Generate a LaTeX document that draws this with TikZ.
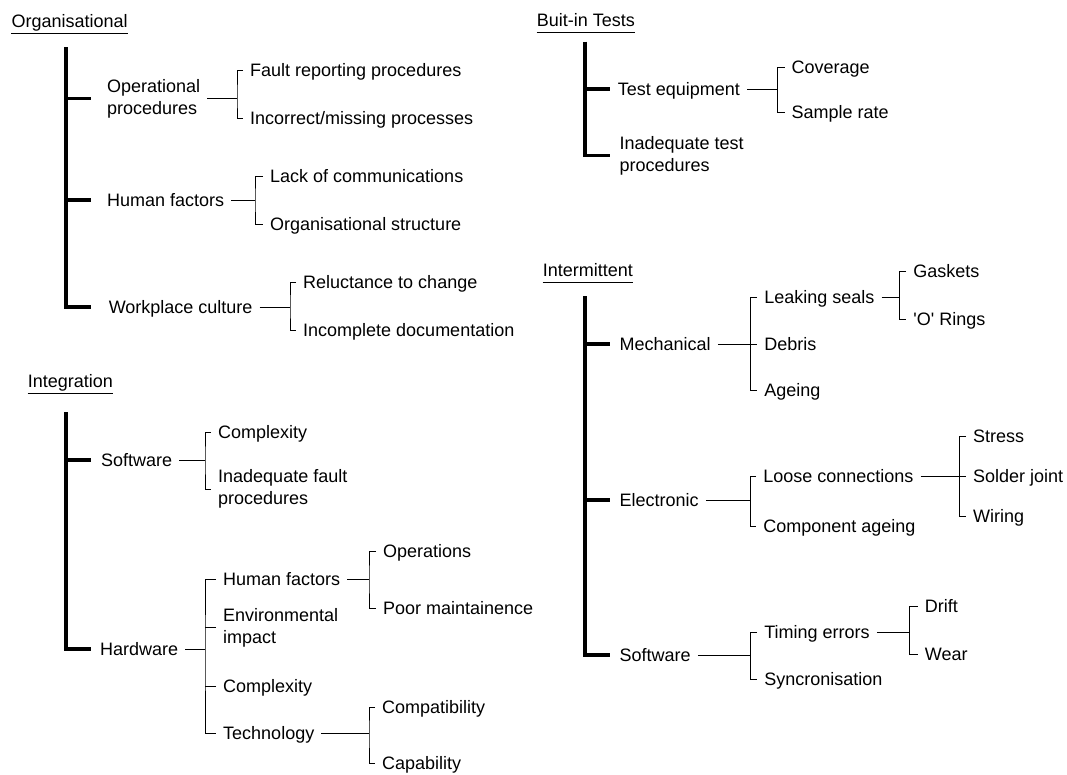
\documentclass[tikz,border=0pt]{standalone}
\usepackage{fontspec}
\setmainfont{Liberation Sans}
\usetikzlibrary{calc}

\begin{document}
\begin{tikzpicture}[x=1pt, y=-1pt,
    every node/.style={font=\fontsize{18}{22}\selectfont},
    item/.style={anchor=west, inner xsep=7pt, inner ysep=1pt, text height=14.5pt, text depth=2.5pt},
    item2/.style={anchor=west, inner xsep=7pt, inner ysep=1pt, align=left},
    head/.style={anchor=base west, inner sep=0pt},
    trunk/.style={line width=3.8pt},
    twig/.style={line width=1pt}]
\useasboundingbox (0,0) rectangle (1067,774);

% Organisational
\node[head] (orghead) at (11.4,27.5) {Organisational};
\draw[twig] ([yshift=-6pt]orghead.base west) -- ([yshift=-6pt]orghead.base east);
\coordinate (orgTop) at (66,47);
\node[item2] (op) at (100,98.5) {Operational\\procedures};
\node[item] (hf) at (100,200) {Human factors};
\node[item] (cult) at (101.6,307) {Workplace culture};
\draw[trunk] (orgTop) -- (orgTop |- cult.west) -- ++(25,0);
\draw[trunk] (orgTop |- op.west) -- ++(25,0);
\draw[trunk] (orgTop |- hf.west) -- ++(25,0);

\coordinate (opB) at (237,98.5);
\node[item] (fault) at (243,70.5) {Fault reporting procedures};
\node[item] (miss) at (243,118) {Incorrect/missing processes};
\draw[twig] (op.east) -- (opB);
\draw[twig] (fault.west) -| (opB) |- (miss.west);

\coordinate (hfB) at (255,200);
\node[item] (lack) at (263,176.5) {Lack of communications};
\node[item] (struct) at (263,224) {Organisational structure};
\draw[twig] (hf.east) -- (hfB);
\draw[twig] (lack.west) -| (hfB) |- (struct.west);

\coordinate (cultB) at (290,307);
\node[item] (reluct) at (296,282.5) {Reluctance to change};
\node[item] (incdoc) at (296,330) {Incomplete documentation};
\draw[twig] (cult.east) -- (cultB);
\draw[twig] (reluct.west) -| (cultB) |- (incdoc.west);

% Integration
\node[head] (inthead) at (27.6,387.5) {Integration};
\draw[twig] ([yshift=-6pt]inthead.base west) -- ([yshift=-6pt]inthead.base east);
\coordinate (intTop) at (66,412);
\node[item] (sw) at (94,460) {Software};
\node[item] (hw) at (93,649.3) {Hardware};
\draw[trunk] (intTop) -- (intTop |- hw.west) -- ++(25,0);
\draw[trunk] (intTop |- sw.west) -- ++(25,0);

\coordinate (swB) at (205,460);
\node[item] (cx1) at (211,432.7) {Complexity};
\node[item2] (iff) at (211,489) {Inadequate fault\\procedures};
\draw[twig] (sw.east) -- (swB);
\draw[twig] (cx1.west) -| (swB) |- (iff.west);

\coordinate (hwB) at (205,649.3);
\node[item] (hwhf) at (216,579) {Human factors};
\node[item2] (env) at (216,627.5) {Environmental\\impact};
\node[item] (cx2) at (216,686.7) {Complexity};
\node[item] (tech) at (216,733) {Technology};
\draw[twig] (hw.east) -- (hwB);
\draw[twig] (hwhf.west) -| (hwB) |- (tech.west);
\draw[twig] (env.west) -- (env.west -| hwB);
\draw[twig] (cx2.west) -- (cx2.west -| hwB);

\coordinate (hwhfB) at (369,579);
\node[item] (ops) at (376,551) {Operations};
\node[item] (poor) at (376,608) {Poor maintainence};
\draw[twig] (hwhf.east) -- (hwhfB);
\draw[twig] (ops.west) -| (hwhfB) |- (poor.west);

\coordinate (techB) at (369,733);
\node[item] (compat) at (375,707.7) {Compatibility};
\node[item] (capab) at (375,763.3) {Capability};
\draw[twig] (tech.east) -- (techB);
\draw[twig] (compat.west) -| (techB) |- (capab.west);

% Buit-in Tests
\node[head] (bithead) at (536.7,26.8) {Buit-in Tests};
\draw[twig] ([yshift=-6pt]bithead.base west) -- ([yshift=-6pt]bithead.base east);
\coordinate (bitTop) at (585,41.7);
\node[item] (testeq) at (610.7,89.3) {Test equipment};
\node[item2] (inadtest) at (612.4,155.5) {Inadequate test\\procedures};
\draw[trunk] (bitTop) -- (bitTop |- inadtest.west) -- ++(25,0);
\draw[trunk] (bitTop |- testeq.west) -- ++(25,0);

\coordinate (teB) at (777,89.3);
\node[item] (cover) at (784.5,67.7) {Coverage};
\node[item] (sample) at (784.5,112.7) {Sample rate};
\draw[twig] (testeq.east) -- (teB);
\draw[twig] (cover.west) -| (teB) |- (sample.west);

% Intermittent
\node[head] (imhead) at (542.7,276.8) {Intermittent};
\draw[twig] ([yshift=-6pt]imhead.base west) -- ([yshift=-6pt]imhead.base east);
\coordinate (imTop) at (585,296);
\node[item] (mech) at (612.4,344) {Mechanical};
\node[item] (elec) at (612.4,500) {Electronic};
\node[item] (soft) at (612.4,655) {Software};
\draw[trunk] (imTop) -- (imTop |- soft.west) -- ++(25,0);
\draw[trunk] (imTop |- mech.west) -- ++(25,0);
\draw[trunk] (imTop |- elec.west) -- ++(25,0);

\coordinate (mechB) at (750.3,344);
\node[item] (leak) at (757.2,297.5) {Leaking seals};
\node[item] (debris) at (757.2,344) {Debris};
\node[item] (ageing) at (757.2,390) {Ageing};
\draw[twig] (mech.east) -- (debris.west);
\draw[twig] (leak.west) -| (mechB) |- (ageing.west);

\coordinate (leakB) at (899.6,297.5);
\node[item] (gask) at (906.2,271) {Gaskets};
\node[item] (orings) at (906.2,319) {\textquotesingle O\textquotesingle{} Rings};
\draw[twig] (leak.east) -- (leakB);
\draw[twig] (gask.west) -| (leakB) |- (orings.west);

\coordinate (elecB) at (750.3,500);
\node[item] (loose) at (756.2,476.5) {Loose connections};
\node[item] (compage) at (756.2,526) {Component ageing};
\draw[twig] (elec.east) -- (elecB);
\draw[twig] (loose.west) -| (elecB) |- (compage.west);

\coordinate (looseB) at (959,476.5);
\node[item] (stress) at (966,436.5) {Stress};
\node[item] (solder) at (966,476.5) {Solder joint};
\node[item] (wiring) at (966,516.5) {Wiring};
\draw[twig] (loose.east) -- (solder.west);
\draw[twig] (stress.west) -| (looseB) |- (wiring.west);

\coordinate (softB) at (750.3,655);
\node[item] (timing) at (757.2,632) {Timing errors};
\node[item] (sync) at (757.2,679.3) {Syncronisation};
\draw[twig] (soft.east) -- (softB);
\draw[twig] (timing.west) -| (softB) |- (sync.west);

\coordinate (timB) at (909,632);
\node[item] (drift) at (917.7,606.7) {Drift};
\node[item] (wear) at (917.7,654) {Wear};
\draw[twig] (timing.east) -- (timB);
\draw[twig] (drift.west) -| (timB) |- (wear.west);
\end{tikzpicture}
\end{document}
